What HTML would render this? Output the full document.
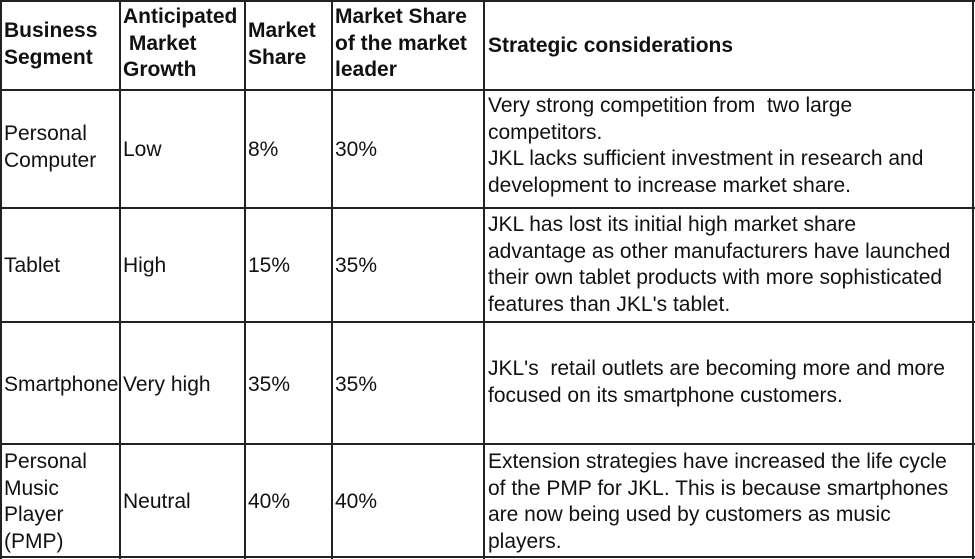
<!DOCTYPE html>
<html><head><style>
body{margin:0;width:975px;height:559px;background:#fff;position:relative;overflow:hidden;font-family:"Liberation Sans",Arial,sans-serif;font-size:21px;color:#111}
.v{position:absolute;top:0;width:2px;height:559px;background:#222}
.h{position:absolute;left:0;width:975px;height:2px;background:#222}
.t{position:absolute;line-height:26.5px;white-space:pre}
.b{font-weight:bold}
</style></head><body>
<div class="v" style="left:0"></div>
<div class="v" style="left:119px"></div>
<div class="v" style="left:244px"></div>
<div class="v" style="left:331px"></div>
<div class="v" style="left:483px"></div>
<div class="v" style="left:972px"></div>
<div class="h" style="top:0"></div>
<div class="h" style="top:89px"></div>
<div class="h" style="top:207px"></div>
<div class="h" style="top:321px"></div>
<div class="h" style="top:443px"></div>
<div class="h" style="top:556px"></div>

<div class="t b" style="left:4px;top:18px">Business
Segment</div>
<div class="t b" style="left:123px;top:4px">Anticipated
 Market
Growth</div>
<div class="t b" style="left:248px;top:18px">Market
Share</div>
<div class="t b" style="left:335px;top:4px">Market Share
of the market
leader</div>
<div class="t b" style="left:488px;top:33px">Strategic considerations</div>

<div class="t" style="left:4px;top:121px">Personal
Computer</div>
<div class="t" style="left:123px;top:137px">Low</div>
<div class="t" style="left:248px;top:137px">8%</div>
<div class="t" style="left:335px;top:137px">30%</div>
<div class="t" style="left:488px;top:93px">Very strong competition from  two large
competitors.
JKL lacks sufficient investment in research and
development to increase market share.</div>

<div class="t" style="left:4px;top:253px">Tablet</div>
<div class="t" style="left:123px;top:253px">High</div>
<div class="t" style="left:248px;top:253px">15%</div>
<div class="t" style="left:335px;top:253px">35%</div>
<div class="t" style="left:488px;top:212px">JKL has lost its initial high market share
advantage as other manufacturers have launched
their own tablet products with more sophisticated
features than JKL's tablet.</div>

<div class="t" style="left:4px;top:372px">Smartphone</div>
<div class="t" style="left:123px;top:372px">Very high</div>
<div class="t" style="left:248px;top:372px">35%</div>
<div class="t" style="left:335px;top:372px">35%</div>
<div class="t" style="left:488px;top:356px">JKL's  retail outlets are becoming more and more
focused on its smartphone customers.</div>

<div class="t" style="left:4px;top:449px">Personal
Music
Player
(PMP)</div>
<div class="t" style="left:123px;top:489px">Neutral</div>
<div class="t" style="left:248px;top:489px">40%</div>
<div class="t" style="left:335px;top:489px">40%</div>
<div class="t" style="left:488px;top:449px">Extension strategies have increased the life cycle
of the PMP for JKL. This is because smartphones
are now being used by customers as music
players.</div>
</body></html>
